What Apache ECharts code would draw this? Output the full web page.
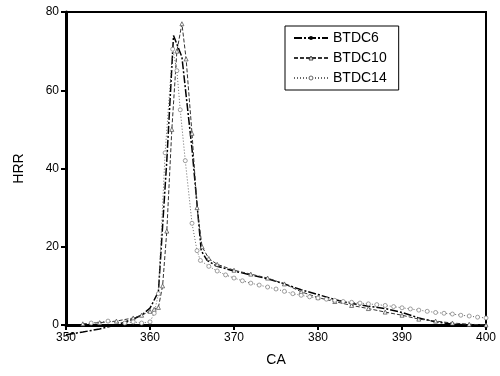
<!DOCTYPE html>
<html lang="en">
<head>
    <meta charset="UTF-8">
    <title>HRR vs CA</title>
    <style>
        html, body { margin: 0; padding: 0; background: #fff; }
    </style>
</head>
<body>
<div id="demo" style="width: 500px; height: 376px;"></div>
<script type="text/javascript" src="https://cdn.jsdelivr.net/npm/echarts@6/dist/echarts.min.js"></script>
<script type="text/javascript">
// data
var seriesNames = ['BTDC6', 'BTDC10', 'BTDC14'];

var ca6  = [350, 352, 354, 356, 358, 359, 360, 361, 361.2, 362, 362.8, 363.8, 365, 366.1, 366.8, 368, 370, 372, 374, 376, 378, 380, 382, 384, 386, 388, 390, 392, 394, 396, 398];
var hrr6 = [-2.5, -1.8, -1.0, 0, 1.5, 2.5, 4.3, 8.5, 9, 42, 74, 68.5, 45, 19, 16.5, 15, 13.8, 12.8, 11.8, 10.5, 9, 7.8, 6.5, 5.5, 4.8, 4.2, 3.2, 1.8, 0.8, 0.2, 0];

var ca10  = [352, 354, 356, 358, 359, 360, 360.5, 361, 361.5, 362, 362.6, 363.2, 363.8, 364.3, 365, 365.6, 366.2, 367, 368, 370, 372, 374, 376, 378, 380, 382, 384, 386, 388, 390, 392, 394, 396, 398, 400];
var hrr10 = [0.3, 0.6, 1, 1.8, 2.5, 3.5, 4, 4.5, 10, 24, 50, 70, 77, 68, 49, 30, 20, 17, 15.5, 14, 13, 12, 10.5, 8.5, 7, 6, 5, 4.2, 3.3, 2.5, 1.5, 1, 0.5, 0.2, 0];

var ca14  = [353, 355, 357, 358, 359, 360, 360.5, 361, 361.8, 362.7, 363.2, 363.6, 364.2, 365, 365.6, 366, 367, 368, 369, 370, 371, 372, 373, 374, 375, 376, 377, 378, 379, 380, 381, 382, 383, 384, 385, 386, 387, 388, 389, 390, 391, 392, 393, 394, 395, 396, 397, 398, 399, 400];
var hrr14 = [0.5, 1, 0.5, 0.8, 0.5, 0.8, 3, 8, 44, 70.5, 65, 55, 42, 26, 19, 16.5, 15, 13.8, 12.8, 12, 11.3, 10.7, 10.2, 9.7, 9.2, 8.6, 8, 7.6, 7.2, 6.9, 6.6, 6.3, 6, 5.8, 5.6, 5.4, 5.2, 5, 4.7, 4.4, 4.1, 3.8, 3.5, 3.2, 3, 2.8, 2.5, 2.3, 2, 1.8];

function pairs(xs, ys) {
    var out = [];
    for (var i = 0; i < xs.length; i++) {
        out.push([xs[i], ys[i]]);
    }
    return out;
}

var myChart = echarts.init(document.getElementById('demo'));
var font = 'Liberation Sans, Arial, sans-serif';
option = {
    animation: false,
    backgroundColor: '#fff',
    grid: {
        left: 66, right: 14, top: 12, bottom: 51,
        show: true,
        borderColor: '#000',
        borderWidth: 2
    },
    legend: {
        data: [
            { name: seriesNames[0] },
            { name: seriesNames[1], itemStyle: { color: '#fff', borderColor: '#222', borderWidth: 0.8 } },
            { name: seriesNames[2], itemStyle: { color: '#fff', borderColor: '#444', borderWidth: 0.8 } }
        ],
        orient: 'vertical',
        left: 285,
        top: 26,
        borderColor: '#000',
        borderWidth: 1,
        padding: [5, 12, 5, 8],
        itemGap: 6,
        itemWidth: 34,
        itemHeight: 5,
        textStyle: { fontFamily: font, fontSize: 14, color: '#000' }
    },
    xAxis: {
        type: 'value',
        min: 350,
        max: 400,
        interval: 10,
        name: 'CA',
        nameLocation: 'middle',
        nameGap: 28,
        nameTextStyle: { fontFamily: font, fontSize: 14, color: '#000' },
        axisLine: { lineStyle: { color: '#000', width: 3 } },
        axisTick: { inside: false, length: 5, lineStyle: { color: '#000', width: 2 } },
        axisLabel: { fontFamily: font, fontSize: 12, color: '#000', margin: 7 },
        splitLine: { show: false }
    },
    yAxis: {
        type: 'value',
        min: 0,
        max: 80,
        interval: 20,
        name: 'HRR',
        nameLocation: 'middle',
        nameGap: 40,
        nameRotate: 90,
        nameTextStyle: { fontFamily: font, fontSize: 14, color: '#000' },
        axisLine: { onZero: false, lineStyle: { color: '#000', width: 3 } },
        axisTick: { inside: false, length: 5, lineStyle: { color: '#000', width: 2 } },
        axisLabel: { fontFamily: font, fontSize: 12, color: '#000', margin: 7 },
        splitLine: { show: false }
    },
    series: [
        {
            name: 'BTDC6',
            type: 'line',
            data: pairs(ca6, hrr6),
            clip: false,
            symbol: 'circle',
            symbolSize: 2,
            showSymbol: false,
            itemStyle: { color: '#000' },
            lineStyle: { color: '#000', width: 1.5, type: [8, 2, 2, 2] }
        },
        {
            name: 'BTDC10',
            type: 'line',
            data: pairs(ca10, hrr10),
            symbol: 'triangle',
            symbolSize: 4,
            itemStyle: { color: '#fff', borderColor: '#444', borderWidth: 0.7 },
            lineStyle: { color: '#333', width: 1, type: [4, 2] }
        },
        {
            name: 'BTDC14',
            type: 'line',
            data: pairs(ca14, hrr14),
            symbol: 'circle',
            symbolSize: 4,
            itemStyle: { color: '#fff', borderColor: '#777', borderWidth: 0.7 },
            lineStyle: { color: '#666', width: 1, type: [1, 2] }
        }
    ]
};
myChart.setOption(option);
</script>
</body>
</html>
